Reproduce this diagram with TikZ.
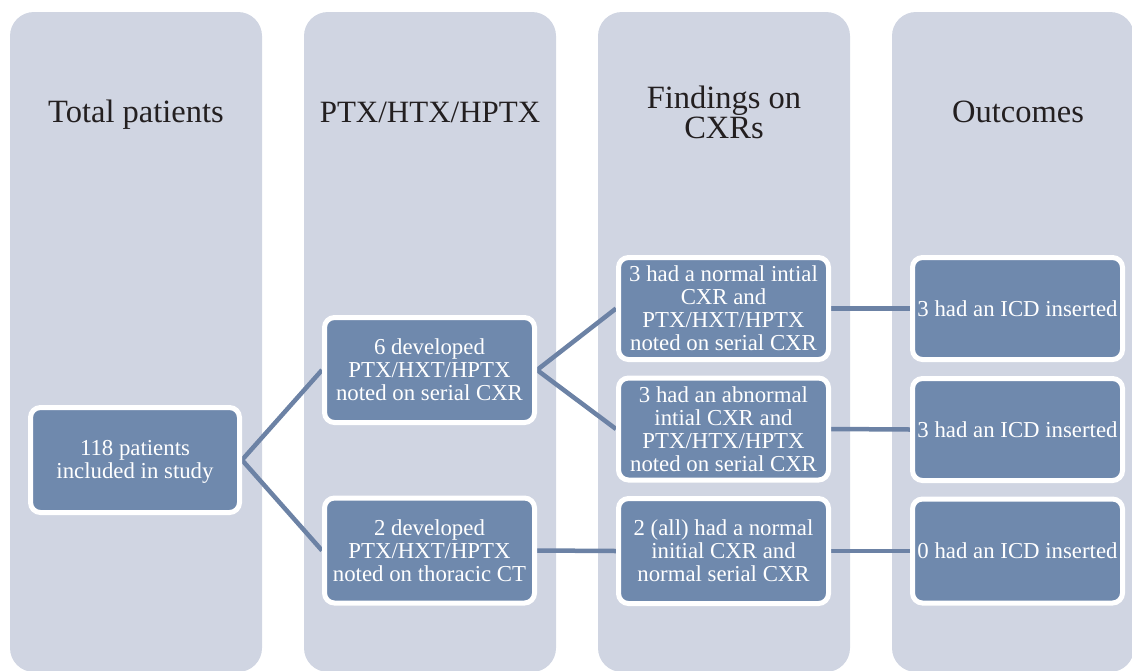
\documentclass[tikz,border=0pt]{standalone}
\usepackage{fontspec}
\setmainfont{Liberation Serif}
\pgfdeclarelayer{bg}
\pgfdeclarelayer{links}
\pgfsetlayers{bg,links,main}
\definecolor{colfill}{RGB}{208,213,226}
\definecolor{boxfill}{RGB}{111,137,173}
\definecolor{linkcol}{RGB}{108,130,165}
\definecolor{headtext}{RGB}{35,31,32}
\tikzset{
  column/.style={fill=colfill, draw=none, rounded corners=24pt},
  header/.style={text=headtext, align=center, font=\fontsize{32.5}{30}\selectfont, inner sep=0pt},
  stage/.style={draw=white, line width=5pt, fill=boxfill, rounded corners=10pt,
    text=white, align=center, inner sep=0pt,
    font=\fontsize{22.8}{23}\selectfont},
  link/.style={draw=linkcol, line width=4.5pt}
}
\begin{document}
\begin{tikzpicture}[x=1pt,y=-1pt]
\useasboundingbox (0,0) rectangle (1132,670);

% column panels
\begin{pgfonlayer}{bg}
  \path[column] (10,12) rectangle (262,672);
  \path[column] (304,12) rectangle (556,672);
  \path[column] (598,12) rectangle (850,672);
  \path[column] (892,12) rectangle (1134,672);
\end{pgfonlayer}

% column headings
\node[header] (h1) at (136,115) {Total patients};
\node[header, font=\fontsize{31}{30}\selectfont] (h2) at (430,112) {PTX/HTX/HPTX};
\node[header] (h3) at (724,112) {Findings on\\CXRs};
\node[header] (h4) at (1018,112) {Outcomes};

% stage boxes
\node[stage, minimum width=209pt, minimum height=105pt] (total) at (135,460) {};
\node[text=white, align=center, inner sep=0pt, font=\fontsize{22.8}{23}\selectfont]
  (totaltext) at (135,462) {118 patients\\included in study};
\node[stage, minimum width=210pt, minimum height=105pt] (serial) at (429.5,370)
  {6 developed\\PTX/HXT/HPTX\\noted on serial CXR};
\node[stage, minimum width=210pt, minimum height=105pt] (ct) at (429.5,550.5)
  {2 developed\\PTX/HXT/HPTX\\noted on thoracic CT};
\node[stage, minimum width=210pt, minimum height=102pt] (normal) at (723.5,308.5)
  {3 had a normal intial\\CXR and\\PTX/HXT/HPTX\\noted on serial CXR};
\node[stage, minimum width=210pt, minimum height=102pt] (abnormal) at (723.5,429)
  {3 had an abnormal\\intial CXR and\\PTX/HTX/HPTX\\noted on serial CXR};
\node[stage, minimum width=210pt, minimum height=105pt] (allnormal) at (723.5,551)
  {2 (all) had a normal\\initial CXR and\\normal serial CXR};
\node[stage, minimum width=210pt, minimum height=102pt] (icdA) at (1017.5,308.5)
  {3 had an ICD inserted};
\node[stage, minimum width=210pt, minimum height=102pt] (icdB) at (1017.5,429.5)
  {3 had an ICD inserted};
\node[stage, minimum width=210pt, minimum height=104pt] (icdC) at (1017.5,551)
  {0 had an ICD inserted};

% connectors
\begin{pgfonlayer}{links}
  \draw[link] (total.east) -- (serial.west);
  \draw[link] (total.east) -- (ct.west);
  \draw[link] (serial.east) -- (normal.west);
  \draw[link] (serial.east) -- (abnormal.west);
  \draw[link] (ct.east) -- (allnormal.west);
  \draw[link] (normal.east) -- (icdA.west);
  \draw[link] (abnormal.east) -- (icdB.west);
  \draw[link] (allnormal.east) -- (icdC.west);
\end{pgfonlayer}
\end{tikzpicture}
\end{document}
